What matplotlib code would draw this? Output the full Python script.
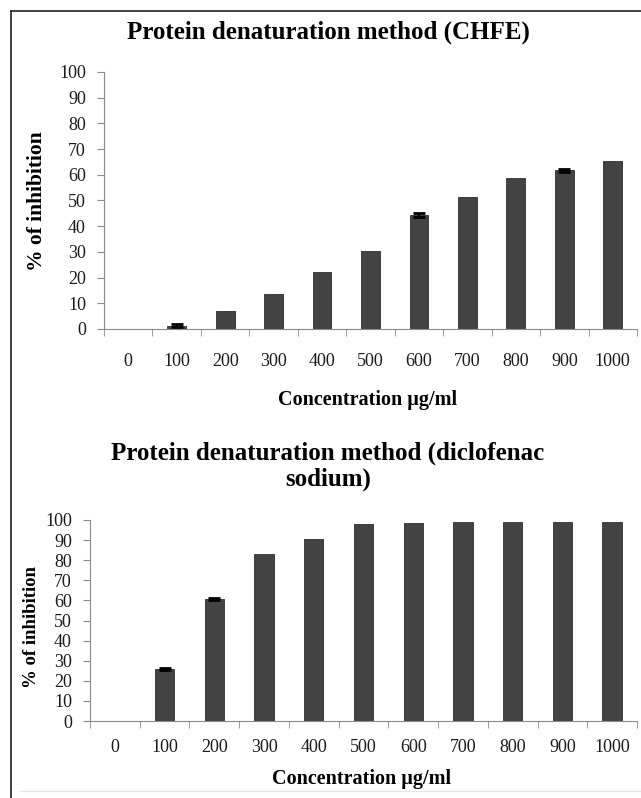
import numpy as np
import matplotlib.pyplot as plt
from matplotlib.lines import Line2D

plt.rcParams['font.family'] = ['Liberation Serif', 'DejaVu Serif']

conc = ["0", "100", "200", "300", "400", "500", "600", "700", "800", "900", "1000"]

# CHFE
chfe = [0, 1.3, 7.1, 13.6, 22.2, 30.3, 44.3, 51.4, 58.7, 61.7, 65.2]
chfe_err = [0, 0.5, 0, 0, 0, 0, 0.7, 0, 0, 0.5, 0]

# diclofenac sodium
diclo = [0, 26.0, 60.7, 83.0, 90.3, 98.0, 98.5, 98.8, 98.8, 99.2, 99.2]
diclo_err = [0, 0.4, 0.4, 0, 0, 0, 0, 0, 0, 0, 0]

W, H = 641, 798
fig = plt.figure(figsize=(W / 100, H / 100), dpi=100)

# frame round the picture (left and top dark, faint line at the bottom)
fig.add_artist(Line2D([11 / W, 11 / W], [0, 1 - 11 / H], transform=fig.transFigure,
                      color='#333333', lw=1.3))
fig.add_artist(Line2D([11 / W, 1], [1 - 11 / H, 1 - 11 / H], transform=fig.transFigure,
                      color='#333333', lw=1.3))
fig.add_artist(Line2D([20 / W, 1], [1 - 791 / H, 1 - 791 / H], transform=fig.transFigure,
                      color='#e6e6e6', lw=1))

bar_color = '#434343'
axis_color = '#8a8a8a'


def draw(ax, vals, errs, xpad):
    x = np.arange(len(conc))
    ax.bar(x, vals, width=0.39, color=bar_color, edgecolor='#2e2e2e', linewidth=0.6)
    e = np.array(errs)
    m = e > 0
    ax.errorbar(x[m], np.array(vals)[m], yerr=e[m], fmt='none', ecolor='black',
                capsize=4, elinewidth=1.5, capthick=2)
    ax.set_xlim(-0.5, len(conc) - 0.5)
    ax.set_ylim(0, 100)
    ax.set_yticks(range(0, 101, 10))
    ax.set_xticks(x)
    ax.set_xticklabels(conc)
    ax.set_xticks(np.arange(-0.5, len(conc), 1), minor=True)
    ax.tick_params(axis='x', which='major', length=0, pad=xpad, labelsize=13, colors='#1a1a1a')
    ax.tick_params(axis='x', which='minor', length=5, color=axis_color)
    ax.tick_params(axis='y', length=5, color=axis_color, labelsize=13, labelcolor='#1a1a1a', pad=8)
    for s in ['top', 'right']:
        ax.spines[s].set_visible(False)
    for s in ['left', 'bottom']:
        ax.spines[s].set_color(axis_color)


ax1 = fig.add_axes([104 / W, 1 - 329 / H, (637 - 104) / W, (329 - 72) / H])
draw(ax1, chfe, chfe_err, 17)
fig.text(37 / W, 1 - 201 / H, "% of inhibition", rotation=90, ha='center', va='center',
         fontsize=15.5, fontweight='bold')
fig.text(368 / W, 1 - 400 / H, "Concentration µg/ml", ha='center', va='center',
         fontsize=14.5, fontweight='bold')
fig.text(328 / W, 1 - 32 / H, "Protein denaturation method (CHFE)", ha='center', va='center',
         fontsize=18, fontweight='bold')

ax2 = fig.add_axes([90 / W, 1 - 721 / H, (637 - 90) / W, (721 - 520) / H])
draw(ax2, diclo, diclo_err, 13)
fig.text(31 / W, 1 - 627 / H, "% of inhibition", rotation=90, ha='center', va='center',
         fontsize=13.5, fontweight='bold')
fig.text(362 / W, 1 - 779 / H, "Concentration µg/ml", ha='center', va='center',
         fontsize=14.5, fontweight='bold')
fig.text(328 / W, 1 - 466 / H, "Protein denaturation method (diclofenac\nsodium)",
         ha='center', va='center', fontsize=18, fontweight='bold', linespacing=1.15)

fig.savefig("out.png", dpi=100)
